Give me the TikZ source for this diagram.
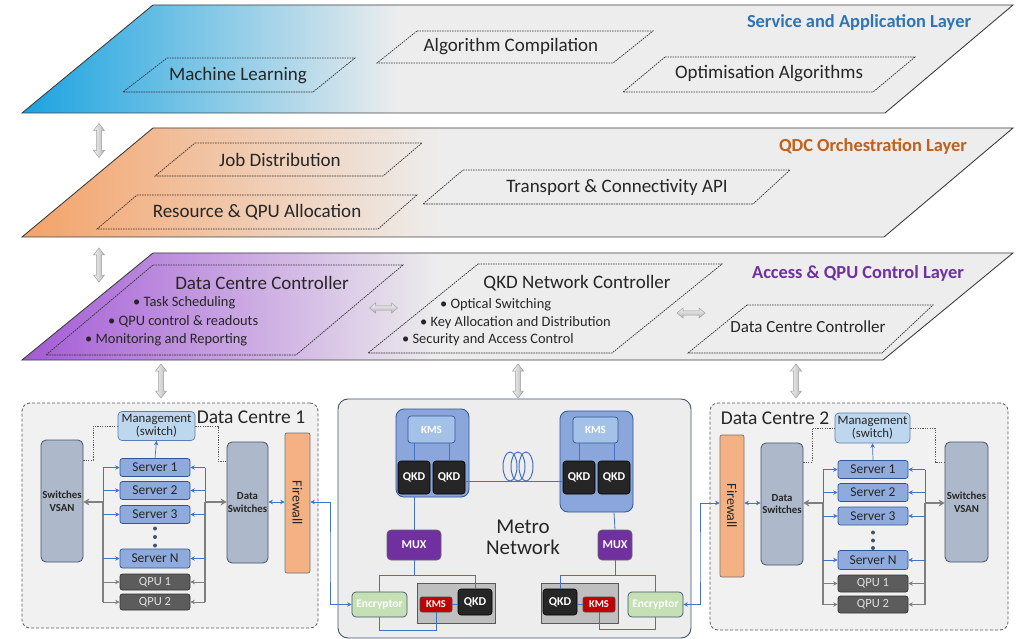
\documentclass[tikz,border=0pt]{standalone}
\usepackage{fontspec}
\setmainfont{Carlito}
\usetikzlibrary{arrows.meta}

\definecolor{laygray}{HTML}{EDEDED}
\definecolor{svcA}{HTML}{1AA3E0}
\definecolor{svcB}{HTML}{86CDEA}
\definecolor{orcA}{HTML}{F4A268}
\definecolor{orcB}{HTML}{F3CDB1}
\definecolor{accA}{HTML}{A35AD6}
\definecolor{accB}{HTML}{CDAFE3}
\definecolor{svctext}{HTML}{2E75B6}
\definecolor{orctext}{HTML}{C0601A}
\definecolor{acctext}{HTML}{7030A0}
\definecolor{framegray}{HTML}{F1F1F1}
\definecolor{slate}{HTML}{ADB9CA}
\definecolor{slateline}{HTML}{44546A}
\definecolor{srvblue}{HTML}{8FAADC}
\definecolor{srvline}{HTML}{2F5597}
\definecolor{mgmtblue}{HTML}{BDD7EE}
\definecolor{mgmtline}{HTML}{5B7FB0}
\definecolor{qpugray}{HTML}{5C5C5C}
\definecolor{fworange}{HTML}{F4B183}
\definecolor{linkblue}{HTML}{4472C4}
\definecolor{busgray}{HTML}{7F7F7F}
\definecolor{grpblue}{HTML}{8AA6DA}
\definecolor{kmsblue}{HTML}{A4C2E8}
\definecolor{qkddark}{HTML}{262626}
\definecolor{muxpurple}{HTML}{7030A0}
\definecolor{encgreen}{HTML}{C5E0B4}
\definecolor{kmsred}{HTML}{C00000}
\definecolor{boxgray}{HTML}{BFBFBF}
\definecolor{metrogray}{HTML}{EDEDED}

\tikzset{
  >={Stealth[length=4.5pt,width=4.5pt]},
  layerline/.style={draw=black!75, line width=0.9pt},
  subbox/.style={draw=black!80, line width=0.7pt, dash pattern=on 1.6pt off 0.9pt},
  sublbl/.style={font=\fontsize{19}{21}\selectfont, text=black!85, inner sep=0pt},
  bul/.style={font=\fontsize{14.4}{16}\selectfont, text=black!85, anchor=west, inner sep=0pt},
  laytitle/.style={font=\bfseries\fontsize{18.4}{20}\selectfont, inner sep=0pt},
  blockarrow/.style={draw=black!38, line width=0.5pt, left color=black!5, right color=black!28},
  blockarrowh/.style={draw=black!38, line width=0.5pt, top color=black!5, bottom color=black!28},
  pics/vdarr/.style={code={
    \path[blockarrow] (0,-17) -- (5.5,-10) -- (2.5,-10) -- (2.5,10) -- (5.5,10) -- (0,17)
      -- (-5.5,10) -- (-2.5,10) -- (-2.5,-10) -- (-5.5,-10) -- cycle;}},
  pics/hdarr/.style={code={
    \path[blockarrowh] (-14,0) -- (-8,-5) -- (-8,-2.2) -- (8,-2.2) -- (8,-5) -- (14,0)
      -- (8,5) -- (8,2.2) -- (-8,2.2) -- (-8,5) -- cycle;}},
  dcframe/.style={draw=black!65, line width=0.8pt, dash pattern=on 3pt off 2pt, fill=framegray, rounded corners=8pt, inner sep=0pt},
  dctitle/.style={font=\fontsize{19.5}{21}\selectfont, text=black!85, inner sep=0pt},
  tallbox/.style={draw=slateline, fill=slate, rounded corners=5pt, line width=0.8pt, align=center, inner sep=0pt,
    font=\bfseries\fontsize{10.8}{12.5}\selectfont, text=black!85},
  srv/.style={draw=srvline, fill=srvblue, rounded corners=2.5pt, line width=0.7pt, minimum width=70pt, minimum height=18pt,
    inner sep=0pt, font=\fontsize{13.5}{14}\selectfont, text=black!85},
  qpu/.style={draw=black!80, fill=qpugray, rounded corners=2.5pt, line width=0.7pt, minimum width=70pt, minimum height=16pt,
    inner sep=0pt, font=\fontsize{12.5}{14}\selectfont, text=black!12},
  mgmt/.style={draw=mgmtline, fill=mgmtblue, rounded corners=4pt, line width=0.7pt, minimum width=77pt, minimum height=29pt,
    inner sep=0pt, align=center, font=\fontsize{12.8}{13}\selectfont, text=black!85},
  fwall/.style={draw=black!55, fill=fworange, rounded corners=2pt, line width=0.7pt, minimum width=25pt, minimum height=140pt, inner sep=0pt},
  fwtext/.style={rotate=-90, font=\fontsize{14}{15}\selectfont, text=black!85, inner sep=0pt},
  dotl/.style={draw=black!65, line width=0.7pt, dash pattern=on 1.2pt off 1.2pt},
  barr/.style={->, draw=linkblue, line width=0.7pt},
  bline/.style={draw=linkblue, line width=0.8pt},
  garr/.style={->, draw=busgray, line width=0.9pt},
  gbus/.style={draw=busgray, line width=2pt},
  gthick/.style={-{Stealth[length=6pt,width=7pt]}, draw=busgray, line width=2.4pt},
  link/.style={<->, draw=linkblue, line width=0.7pt},
  metroframe/.style={draw=slateline, fill=metrogray, rounded corners=10pt, line width=0.9pt, inner sep=0pt},
  grp/.style={draw=srvline, fill=grpblue, rounded corners=8pt, line width=0.8pt, inner sep=0pt},
  kmst/.style={draw=srvline, fill=kmsblue, rounded corners=3pt, line width=0.7pt, inner sep=0pt,
    font=\bfseries\fontsize{11}{12}\selectfont, text=white},
  qkd/.style={draw=black, fill=qkddark, rounded corners=3pt, line width=0.6pt, minimum width=32pt, minimum height=33pt,
    inner sep=0pt, font=\bfseries\fontsize{12}{13}\selectfont, text=white},
  mux/.style={draw=black!60, fill=muxpurple, rounded corners=4pt, line width=0.6pt, minimum height=30pt, inner sep=0pt,
    font=\bfseries\fontsize{12}{13}\selectfont, text=white},
  enc/.style={draw=slateline, fill=encgreen, rounded corners=4pt, line width=0.7pt, minimum width=55pt, minimum height=25pt,
    inner sep=0pt, font=\bfseries\fontsize{11.5}{12}\selectfont, text=white},
  gbox/.style={draw=black!65, fill=boxgray, line width=0.7pt, minimum width=78pt, minimum height=40pt, inner sep=0pt},
  kmsr/.style={draw=black!70, fill=kmsred, rounded corners=2pt, line width=0.6pt, minimum width=32pt, minimum height=15pt,
    inner sep=0pt, font=\bfseries\fontsize{10.5}{11}\selectfont, text=white},
  qkds/.style={draw=black, fill=qkddark, rounded corners=3pt, line width=0.6pt, minimum width=34pt, minimum height=26pt,
    inner sep=0pt, font=\bfseries\fontsize{12}{13}\selectfont, text=white},
}

\begin{document}
\begin{tikzpicture}[x=1pt, y=-1pt]
\useasboundingbox (0,0) rectangle (1023,639);
\fill[white] (0,0) rectangle (1023,639);

% ---------------- Service and Application Layer ----------------
\fill[laygray] (153,5) -- (1013,5) -- (885,113) -- (22,113) -- cycle;
\begin{scope}
  \clip (153,5) -- (1013,5) -- (885,113) -- (22,113) -- cycle;
  \shade[left color=svcA, middle color=svcB, right color=laygray] (22,5) rectangle (400,113);
\end{scope}
\draw[layerline] (153,5) -- (1013,5) -- (885,113) -- (22,113) -- cycle;
\draw[subbox] (167,58) -- (355,58) -- (313,92) -- (123,92) -- cycle;
\draw[subbox] (417,31) -- (653,31) -- (613,63) -- (377,63) -- cycle;
\draw[subbox] (665,57) -- (915,57) -- (873,92) -- (623,92) -- cycle;
\node[laytitle, text=svctext] (t1) at (859,22) {Service and Application Layer};
\node[sublbl] (ml) at (238,76) {Machine Learning};
\node[sublbl] (ac) at (511,47) {Algorithm Compilation};
\node[sublbl] (oa) at (769,74) {Optimisation Algorithms};

% ---------------- QDC Orchestration Layer ----------------
\fill[laygray] (153,128) -- (1013,128) -- (884,237) -- (22,237) -- cycle;
\begin{scope}
  \clip (153,128) -- (1013,128) -- (884,237) -- (22,237) -- cycle;
  \shade[left color=orcA, middle color=orcB, right color=laygray] (22,128) rectangle (440,237);
\end{scope}
\draw[layerline] (153,128) -- (1013,128) -- (884,237) -- (22,237) -- cycle;
\draw[subbox] (195,143) -- (422,143) -- (383,176) -- (155,176) -- cycle;
\draw[subbox] (137,195) -- (417,195) -- (378,229) -- (97,229) -- cycle;
\draw[subbox] (463,170) -- (790,170) -- (753,204) -- (423,204) -- cycle;
\node[laytitle, text=orctext] (t2) at (873,146) {QDC Orchestration Layer};
\node[sublbl] (jd) at (280,160) {Job Distribution};
\node[sublbl] (ra) at (257,212) {Resource \& QPU Allocation};
\node[sublbl] (tc) at (617,187) {Transport \& Connectivity API};

% ---------------- Access & QPU Control Layer ----------------
\fill[laygray] (153,253) -- (1013,253) -- (883,360) -- (22,360) -- cycle;
\begin{scope}
  \clip (153,253) -- (1013,253) -- (883,360) -- (22,360) -- cycle;
  \shade[left color=accA, middle color=accB, right color=laygray] (22,253) rectangle (440,360);
\end{scope}
\draw[layerline] (153,253) -- (1013,253) -- (883,360) -- (22,360) -- cycle;
\draw[subbox] (153,265) -- (403,265) -- (296,355) -- (46,355) -- cycle;
\draw[subbox] (478,264) -- (722,264) -- (612,353) -- (368,353) -- cycle;
\draw[subbox] (747,305) -- (933,305) -- (882,353) -- (688,353) -- cycle;
\node[laytitle, text=acctext] (t3) at (858,273) {Access \& QPU Control Layer};
\node[sublbl] (dcc) at (262,283) {Data Centre Controller};
\node[bul] (dcc1) at (133,303) {\textbullet\ Task Scheduling};
\node[bul] (dcc2) at (108,321) {\textbullet\ QPU control \& readouts};
\node[bul] (dcc3) at (85,340) {\textbullet\ Monitoring and Reporting};
\node[sublbl] (qnc) at (577,283) {QKD Network Controller};
\node[bul] (qnc1) at (440,305) {\textbullet\ Optical Switching};
\node[bul] (qnc2) at (420,323) {\textbullet\ Key Allocation and Distribution};
\node[bul] (qnc3) at (402,340) {\textbullet\ Security and Access Control};
\node[font=\fontsize{17}{19}\selectfont, text=black!85, inner sep=0pt] (dcc2b) at (808,327) {Data Centre Controller};

% block arrows between layers and towards the sites
\pic at (99,140.5) {vdarr};
\pic at (99,265) {vdarr};
\pic at (161,381) {vdarr};
\pic at (518,381) {vdarr};
\pic at (796,381) {vdarr};
\pic at (383.5,308) {hdarr};
\pic at (691,313) {hdarr};

% ---------------- Data Centre 1 ----------------
\node[dcframe, minimum width=296pt, minimum height=225pt] (dc1) at (170,515.5) {};
\node[dctitle] (dc1t) at (251,417) {Data Centre 1};
\node[mgmt] (m1) at (156.5,426) {Management\\(switch)};
\node[tallbox, minimum width=42pt, minimum height=122pt] (vs1) at (62,501) {Switches\\VSAN};
\node[srv] (s11) at (155,467.5) {Server 1};
\node[srv] (s12) at (155,490.5) {Server 2};
\node[srv] (s13) at (155,514.5) {Server 3};
\node[srv, minimum height=19pt] (s1n) at (155,558.5) {Server N};
\node[qpu] (q11) at (155,582) {QPU 1};
\node[qpu] (q12) at (155,602) {QPU 2};
\node[tallbox, minimum width=41pt, minimum height=121pt] (ds1) at (247.5,502.5) {Data\\Switches};
\node[fwall] (fw1) at (297.5,503) {};
\node[fwtext] (fw1t) at (fw1) {Firewall};
\foreach \yy in {528.5,537,545.5} \fill[slateline] (155,\yy) circle [radius=2pt];

\coordinate (bl1) at (103,502);
\coordinate (br1) at (205,502);
\draw[bline] (bl1 |- s11) -- (bl1 |- s1n);
\draw[bline] (br1 |- s11) -- (br1 |- s1n);
\draw[gbus] (bl1) -- (bl1 |- q12);
\draw[gbus] (br1) -- (br1 |- q12);
\foreach \n in {s11,s12,s13,s1n} {
  \draw[barr] (bl1 |- \n) -- (\n.west);
  \draw[barr] (br1 |- \n) -- (\n.east);
}
\foreach \n in {q11,q12} {
  \draw[garr] (bl1 |- \n) -- (\n.west);
  \draw[garr] (br1 |- \n) -- (\n.east);
}
\draw[gthick] (bl1) -- (vs1.east |- bl1);
\draw[gthick] (br1) -- (ds1.west |- br1);
\draw[link] (ds1.east |- br1) -- (fw1.west |- br1);
\draw[barr] (s11.north) -- (m1.south);
\draw[dotl] (vs1.east |- 0,460) -| (93,426) -- (m1.west);
\draw[dotl] (m1.east) -| (218,461) -- (ds1.west |- 0,461);

% ---------------- Data Centre 2 ----------------
\node[dcframe, minimum width=298pt, minimum height=227pt] (dc2) at (859,516.5) {};
\node[dctitle] (dc2t) at (775,418) {Data Centre 2};
\node[mgmt, minimum width=75pt, minimum height=30pt] (m2) at (872.5,428) {Management\\(switch)};
\node[fwall, minimum width=24pt, minimum height=142pt] (fw2) at (732,506) {};
\node[fwtext] (fw2t) at (fw2) {Firewall};
\node[tallbox, minimum width=42pt, minimum height=122pt] (ds2) at (782,504) {Data\\Switches};
\node[srv] (s21) at (873,469.5) {Server 1};
\node[srv] (s22) at (873,492.5) {Server 2};
\node[srv] (s23) at (873,516) {Server 3};
\node[srv, minimum height=19pt] (s2n) at (873,560) {Server N};
\node[qpu, minimum height=17pt] (q21) at (873,583.5) {QPU 1};
\node[qpu, minimum height=17pt] (q22) at (873,604.5) {QPU 2};
\node[tallbox, minimum width=43pt, minimum height=120pt] (vs2) at (966.5,502) {Switches\\VSAN};
\foreach \yy in {532.5,540.5,548} \fill[slateline] (873,\yy) circle [radius=2pt];

\coordinate (bl2) at (823,503);
\coordinate (br2) at (925,503);
\draw[bline] (bl2 |- s21) -- (bl2 |- s2n);
\draw[bline] (br2 |- s21) -- (br2 |- s2n);
\draw[gbus] (bl2) -- (bl2 |- q22);
\draw[gbus] (br2) -- (br2 |- q22);
\foreach \n in {s21,s22,s23,s2n} {
  \draw[barr] (bl2 |- \n) -- (\n.west);
  \draw[barr] (br2 |- \n) -- (\n.east);
}
\foreach \n in {q21,q22} {
  \draw[garr] (bl2 |- \n) -- (\n.west);
  \draw[garr] (br2 |- \n) -- (\n.east);
}
\draw[gthick] (bl2) -- (ds2.east |- bl2);
\draw[gthick] (br2) -- (vs2.west |- br2);
\draw[link] (fw2.east |- bl2) -- (ds2.west |- bl2);
\draw[barr] (s21.north) -- (m2.south);
\draw[dotl] (ds2.east |- 0,462) -| (812,428) -- (m2.west);
\draw[dotl] (m2.east) -| (935,462) -- (vs2.west |- 0,462);

% ---------------- Metro Network ----------------
\node[metroframe, minimum width=353pt, minimum height=239pt] (metro) at (514.5,518.5) {};
\node[grp, minimum width=73pt, minimum height=88pt] (gl) at (432.5,453) {};
\node[kmst, minimum width=47pt, minimum height=27pt] (kl) at (431.5,429.5) {KMS};
\node[qkd] (ql1) at (414,477.5) {QKD};
\node[qkd] (ql2) at (449,477.5) {QKD};
\node[grp, minimum width=73pt, minimum height=101pt] (gr) at (596.5,461.5) {};
\node[kmst, minimum width=45pt, minimum height=26pt] (kr) at (595.5,430) {KMS};
\node[qkd] (qr1) at (579,477.5) {QKD};
\node[qkd] (qr2) at (614,477.5) {QKD};
\draw[bline] (ql1.north) -- (ql1.north |- kl.south);
\draw[bline] (ql2.north) -- (ql2.north |- kl.south);
\draw[bline] (qr1.north) -- (qr1.north |- kr.south);
\draw[bline] (qr2.north) -- (qr2.north |- kr.south);

\coordinate (fib) at (518,481);
\draw[bline] (ql2.east |- fib) -- (qr1.west |- fib);
\foreach \xx in {510,518,526} \draw[linkblue, line width=1pt] (\xx,466.5) ellipse [x radius=7pt, y radius=14.5pt];

\node[mux, minimum width=54pt] (mxl) at (414,545) {MUX};
\node[mux, minimum width=34pt] (mxr) at (615,545) {MUX};
\draw[bline] (ql1.south |- gl.south) -- (mxl.north);
\draw[bline] (qr2.south |- gr.south) -- (mxr.north);
\node[font=\fontsize{21}{21}\selectfont, align=center, text=black!85, inner sep=0pt] (mt) at (523,537) {Metro\\Network};

\node[enc] (el) at (379.5,604.5) {Encryptor};
\node[gbox] (gbl) at (456,603) {};
\node[kmsr] (kbl) at (436,604.5) {KMS};
\node[qkds] (qbl) at (475,602) {QKD};
\node[gbox, minimum width=77pt] (gbr) at (579.5,603) {};
\node[qkds] (qbr) at (560,602) {QKD};
\node[kmsr] (kbr) at (599,604.5) {KMS};
\node[enc] (er) at (655.5,604.5) {Encryptor};

\coordinate (mbl) at (414,575);
\coordinate (mbr) at (615,575);
\draw[bline] (mxl.south) -- (mbl);
\draw[bline] (el.north) |- (qbl.north |- mbl) -- (qbl.north);
\draw[bline] (kbl.east) -- (qbl.west |- kbl.east);
\draw[bline] (el.south) -- ++(0,13) -| (kbl.south);
\draw[bline] (mxr.south) -- (mbr);
\draw[bline] (qbr.north) |- (er.north |- mbr) -- (er.north);
\draw[bline] (kbr.west) -- (qbr.east |- kbr.west);
\draw[bline] (kbr.south) -- ++(0,17) -| (er.south);

% links from the firewalls to the encryptors
\coordinate (j1) at (330,560);
\coordinate (j2) at (700,560);
\draw[link] (fw1.east |- br1) -| (j1) |- (el.west);
\draw[link] (er.east) -| (j2) |- (fw2.west |- bl2);

\end{tikzpicture}
\end{document}
